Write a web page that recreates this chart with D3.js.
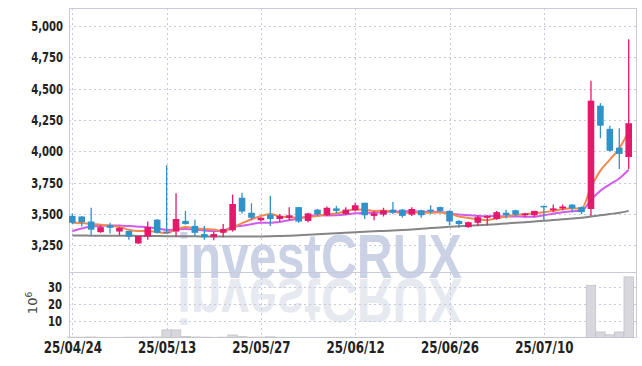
<!DOCTYPE html>
<html>
<head>
<meta charset="utf-8">
<script src="https://cdn.jsdelivr.net/npm/d3@7"></script>
<style>
  html, body { margin: 0; padding: 0; background: #fff; }
  svg { display: block; }
  .tick text { font-family: "DejaVu Sans Condensed", "DejaVu Sans", sans-serif; font-weight: bold; fill: #222; }
</style>
</head>
<body>
<svg id="chart" width="642" height="366"></svg>
<script>
// trading days (2025)
const dates = ["04/24","04/25","04/28","04/29","04/30","05/02","05/07","05/08","05/09","05/12",
  "05/13","05/14","05/15","05/16","05/19","05/20","05/21","05/22","05/23","05/26",
  "05/27","05/28","05/29","05/30","06/02","06/04","06/05","06/09","06/10","06/11",
  "06/12","06/13","06/16","06/17","06/18","06/19","06/20","06/23","06/24","06/25",
  "06/26","06/27","06/30","07/01","07/02","07/03","07/04","07/07","07/08","07/09",
  "07/10","07/11","07/14","07/15","07/16","07/17","07/18","07/21","07/22","07/23"];

const open  = [3485,3480,3440,3355,3410,3360,3365,3265,3320,3455, 3360,3360,3445,3405,3340,3315,3350,3370,3630,3510,
               3450,3495,3460,3470,3555,3445,3535,3490,3545,3500, 3530,3590,3485,3495,3535,3535,3495,3530,3535,3555,
               3525,3445,3395,3430,3470,3460,3510,3530,3490,3490, 3565,3530,3545,3575,3555,3540,4365,4180,4030,3955];
const high  = [3505,3485,3550,3410,3430,3395,3365,3325,3440,3460, 3890,3665,3525,3455,3405,3360,3420,3655,3670,3585,
               3475,3645,3500,3555,3555,3510,3540,3560,3565,3555, 3590,3590,3525,3550,3595,3540,3555,3535,3570,3560,
               3530,3450,3440,3490,3490,3525,3535,3535,3510,3525, 3565,3575,3575,3580,3560,4565,4385,4205,4185,4895];
const low   = [3420,3400,3330,3350,3345,3330,3295,3260,3295,3345, 3350,3320,3415,3320,3295,3290,3315,3360,3505,3450,
               3440,3405,3440,3450,3430,3435,3485,3485,3505,3495, 3520,3460,3450,3480,3500,3470,3485,3470,3505,3515,
               3410,3390,3390,3405,3410,3455,3465,3485,3475,3475, 3455,3515,3530,3515,3500,3485,4105,4000,3860,3860];
const close = [3430,3435,3375,3395,3390,3390,3320,3325,3395,3350, 3355,3460,3420,3350,3315,3340,3380,3580,3520,3470,
               3470,3460,3485,3490,3440,3505,3500,3550,3525,3535, 3570,3490,3505,3530,3510,3485,3540,3490,3525,3525,
               3440,3420,3435,3475,3485,3515,3490,3495,3505,3525, 3555,3545,3560,3545,3515,4405,4205,4005,3980,4225];

// moving averages
const maShort = [3430,3428,3420,3415,3405,3397,3374,3364,3364,3356, 3349,3377,3396,3387,3380,3377,3361,3393,3427,3458,
                 3484,3500,3481,3475,3469,3476,3484,3497,3504,3523, 3536,3534,3525,3526,3521,3504,3514,3511,3510,3513,
                 3504,3480,3469,3459,3451,3466,3480,3492,3498,3506, 3514,3525,3538,3546,3544,3714,3846,3935,4022,4164];
const maMid   = [3363,3385,3400,3405,3409,3408,3404,3399,3394,3385, 3373,3376,3380,3376,3368,3363,3369,3395,3407,3419,
                 3431,3431,3437,3451,3464,3480,3492,3489,3490,3496, 3506,3509,3511,3515,3522,3520,3524,3518,3518,3517,
                 3504,3497,3490,3485,3482,3485,3480,3481,3479,3479, 3490,3503,3515,3522,3525,3614,3686,3737,3784,3854];
const maLong  = [3328,3328,3327,3327,3327,3326,3326,3325,3325,3324, 3323,3323,3322,3322,3321,3320,3320,3320,3320,3321,
                 3321,3322,3324,3327,3331,3335,3338,3342,3346,3350, 3354,3358,3362,3365,3368,3372,3377,3382,3388,3393,
                 3398,3402,3406,3410,3414,3419,3425,3430,3435,3440, 3446,3452,3458,3464,3470,3480,3490,3500,3510,3525];

// volume, millions
const volume = [0.2,0.2,0.3,0.1,0.1,0.1,0.2,0.2,0.2,0.3, 4.5,4.5,0.6,0.3,0.2,0.1,0.2,1.5,0.5,0.2,
                0.2,0.4,0.1,0.1,0.1,0.1,0.1,0.1,0.1,0.1, 0.1,0.1,0.1,0.1,0.1,0.1,0.1,0.1,0.1,0.1,
                0.1,0.1,0.1,0.1,0.1,0.1,0.1,0.1,0.1,0.1, 0.1,0.1,0.1,0.1,0.1,31,3.3,1.6,3.3,36];

const priceTicks = [3250,3500,3750,4000,4250,4500,4750,5000];
const volTicks = [10,20,30];
const dateTicks = [0,10,20,30,40,50];

const UP = "#e3196c", DOWN = "#2f92c9";

const svg = d3.select("#chart");
const plotL = 69, plotR = 636, priceTop = 8, priceBot = 272, volTop = 272, volBot = 337.5;

const x = d3.scaleLinear().domain([0, 59]).range([72.3, 628.7]);
const y = d3.scaleLinear().domain([3037, 5145]).range([priceBot, priceTop]);
const yv = d3.scaleLinear().domain([0, 38.9]).range([volBot, volTop]);

// watermark and its reflection
const wmBase = 278;
function watermark(g, color) {
  g.append("text")
    .attr("x", 177).attr("y", wmBase)
    .attr("textLength", 285).attr("lengthAdjust", "spacingAndGlyphs")
    .style("font-family", "Liberation Sans, Arial, sans-serif")
    .style("font-weight", "bold").style("font-size", "63px")
    .style("fill", color)
    .text("investCRUX");
}
watermark(svg.append("g"), "#ccd2e6");
watermark(svg.append("g").attr("transform", "translate(0," + (2 * wmBase + 1) + ") scale(1,-1)"), "#e7e9f0");

// grid
const grid = svg.append("g").attr("stroke", "#c5c9db").attr("stroke-dasharray", "2,3").attr("stroke-width", 1);
grid.selectAll("line.hp").data(priceTicks).enter().append("line")
    .attr("x1", plotL).attr("x2", plotR)
    .attr("y1", d => Math.round(y(d)) + 0.5).attr("y2", d => Math.round(y(d)) + 0.5);
grid.selectAll("line.hv").data(volTicks).enter().append("line")
    .attr("x1", plotL).attr("x2", plotR)
    .attr("y1", d => Math.round(yv(d)) + 0.5).attr("y2", d => Math.round(yv(d)) + 0.5);
grid.selectAll("line.v").data(dateTicks).enter().append("line")
    .attr("x1", d => Math.round(x(d)) + 0.5).attr("x2", d => Math.round(x(d)) + 0.5)
    .attr("y1", priceTop).attr("y2", volBot);

// frame
const frame = svg.append("g").attr("stroke", "#c8cad8").attr("stroke-width", 1).attr("fill", "none");
frame.append("line").attr("x1", plotL + 0.5).attr("x2", plotL + 0.5).attr("y1", priceTop).attr("y2", volBot);
frame.append("line").attr("x1", plotR + 0.5).attr("x2", plotR + 0.5).attr("y1", priceTop).attr("y2", volBot);
frame.append("line").attr("x1", plotL).attr("x2", plotR).attr("y1", priceTop + 0.5).attr("y2", priceTop + 0.5);
frame.append("line").attr("x1", plotL).attr("x2", plotR).attr("y1", priceBot + 0.5).attr("y2", priceBot + 0.5);
frame.append("line").attr("x1", plotL).attr("x2", plotR).attr("y1", volBot).attr("y2", volBot);

// volume bars
const bw = x(1) - x(0);
svg.append("g").selectAll("rect").data(volume).enter().append("rect")
    .attr("x", (d, i) => x(i) - bw / 2)
    .attr("width", bw)
    .attr("y", d => yv(d))
    .attr("height", d => volBot - yv(d))
    .attr("fill", "#d7d7dd")
    .attr("stroke", "#c2c2ca")
    .attr("stroke-width", 0.8);

// moving averages
const line = d3.line().x((d, i) => x(i)).y(d => y(d)).curve(d3.curveMonotoneX);
svg.append("path").datum(maLong).attr("d", line).attr("fill", "none").attr("stroke", "#858585").attr("stroke-width", 2);
svg.append("path").datum(maMid).attr("d", line).attr("fill", "none").attr("stroke", "#cf5ceb").attr("stroke-width", 2);
svg.append("path").datum(maShort).attr("d", line).attr("fill", "none").attr("stroke", "#f08850").attr("stroke-width", 2);

// candles
const candles = svg.append("g").selectAll("g").data(dates).enter().append("g");
candles.append("line")
    .attr("x1", (d, i) => x(i)).attr("x2", (d, i) => x(i))
    .attr("y1", (d, i) => y(high[i])).attr("y2", (d, i) => y(low[i]))
    .attr("stroke", (d, i) => close[i] >= open[i] ? UP : DOWN)
    .attr("stroke-width", 1.3);
candles.append("rect")
    .attr("x", (d, i) => x(i) - 3.3)
    .attr("width", 6.6)
    .attr("y", (d, i) => y(Math.max(open[i], close[i])))
    .attr("height", (d, i) => Math.max(1.5, Math.abs(y(open[i]) - y(close[i]))))
    .attr("fill", (d, i) => close[i] >= open[i] ? UP : DOWN);

// axes
const axP = svg.append("g").attr("transform", "translate(" + (plotL - 6) + ",0)")
    .call(d3.axisLeft(y).tickValues(priceTicks).tickFormat(d3.format(",")).tickSize(0).tickPadding(0));
const axV = svg.append("g").attr("transform", "translate(" + (plotL - 7) + ",0)")
    .call(d3.axisLeft(yv).tickValues(volTicks).tickFormat(d3.format("d")).tickSize(0).tickPadding(0));
const axX = svg.append("g").attr("transform", "translate(0," + volBot + ")")
    .call(d3.axisBottom(x).tickValues(dateTicks).tickFormat(i => "25/" + dates[i]).tickSize(0).tickPadding(5));
[axP, axV, axX].forEach(a => a.select(".domain").remove());
axP.selectAll("text").style("font-size", "14px").attr("transform", "scale(0.8,1)");
axV.selectAll("text").style("font-size", "14px").attr("transform", "scale(0.8,1)");
axX.selectAll("text").style("font-size", "15px").attr("transform", "scale(0.88,1)");

// volume unit
svg.append("text")
    .attr("transform", "translate(37,303) rotate(-90)")
    .attr("text-anchor", "middle")
    .style("font-family", "DejaVu Sans, sans-serif").style("font-size", "13px").style("fill", "#444")
    .text("10")
  .append("tspan").attr("dy", -5).style("font-size", "9px").text("6");
</script>
</body>
</html>
